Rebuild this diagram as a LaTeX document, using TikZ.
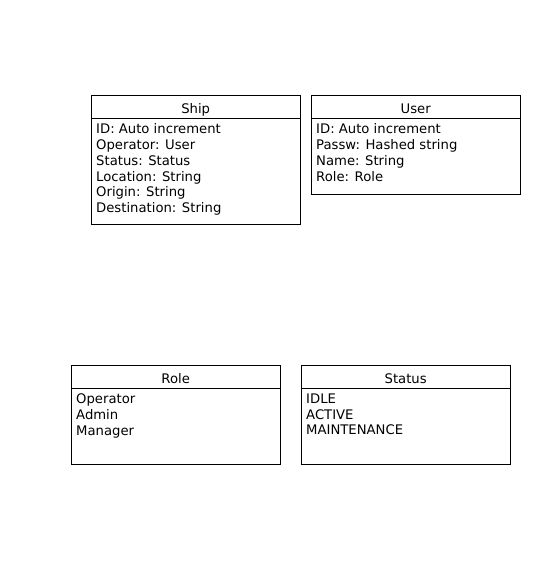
\documentclass[tikz,border=0pt]{standalone}
\usepackage{fontspec}
\setmainfont{DejaVu Sans}
\usepackage{tikz}
\usetikzlibrary{positioning}

\tikzset{
  classbox/.style={draw,thin,minimum width=209pt,inner sep=0pt},
  classtitle/.style={classbox,minimum height=23pt,text height=13pt,text depth=0pt,
    font=\fontsize{13.2}{15.8}\selectfont},
  classbody/.style={anchor=north west,align=left,inner sep=0pt,
    font=\fontsize{13.2}{15.8}\selectfont},
}

\begin{document}
\begin{tikzpicture}[x=1pt,y=-1pt]
  \useasboundingbox (0,0) rectangle (556,570);

  %ship
  \node[classtitle,anchor=north west] (ship) at (91,95) {Ship};
  \node[classbox,anchor=north,minimum height=106pt] (shipbox) at (ship.south) {};
  \node[classbody] (shipattr) at ([xshift=5pt,yshift=-5pt]shipbox.north west)
    {ID: Auto increment\\Operator: User\\Status: Status\\Location: String\\Origin: String\\Destination: String};

  %user
  \node[classtitle,anchor=north west] (user) at (311,95) {User};
  \node[classbox,anchor=north,minimum height=76pt] (userbox) at (user.south) {};
  \node[classbody] (userattr) at ([xshift=5pt,yshift=-5pt]userbox.north west)
    {ID: Auto increment\\Passw: Hashed string\\Name: String\\Role: Role};

  %role
  \node[classtitle,anchor=north west] (role) at (71,365) {Role};
  \node[classbox,anchor=north,minimum height=76pt] (rolebox) at (role.south) {};
  \node[classbody] (roleattr) at ([xshift=5pt,yshift=-5pt]rolebox.north west)
    {Operator\\Admin\\Manager};

  %status
  \node[classtitle,anchor=north west] (status) at (301,365) {Status};
  \node[classbox,anchor=north,minimum height=76pt] (statusbox) at (status.south) {};
  \node[classbody] (statusattr) at ([xshift=5pt,yshift=-5pt]statusbox.north west)
    {IDLE\\ACTIVE\\MAINTENANCE};
\end{tikzpicture}
\end{document}
